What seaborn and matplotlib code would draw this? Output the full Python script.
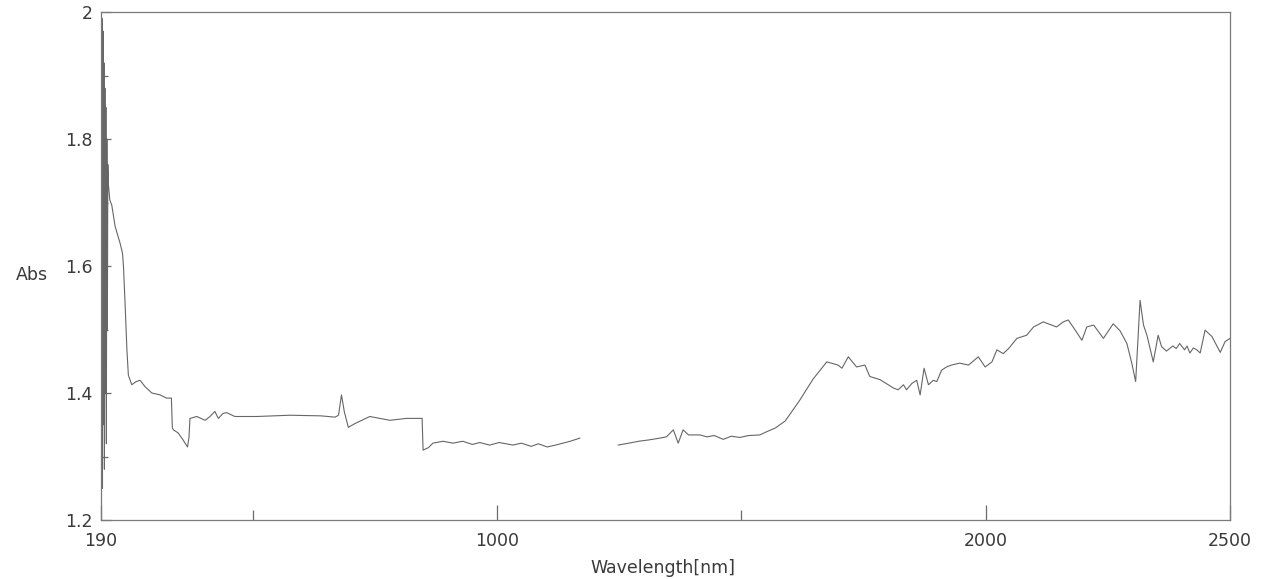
import numpy as np
import pandas as pd
import matplotlib
matplotlib.use("Agg")
import matplotlib.pyplot as plt
import seaborn as sns

# ---- data ----
wavelength = [
    190, 191, 192, 193, 194, 195, 196, 197, 198, 199, 200, 201, 202, 203, 204, 205,
    208, 212, 219, 229, 234, 236, 239, 243, 246, 253, 262, 270, 280, 294, 311, 324,
    334, 336, 338, 348, 358, 367, 370, 372, 386, 403, 413, 423, 430, 440, 447, 464,
    509, 577, 640, 669, 676, 682, 688, 696, 710, 740, 781, 815, 847, 849, 860, 869,
    890, 910, 930, 950, 965, 985, 1005, 1033, 1050, 1070, 1085, 1103, 1120, 1135, 1150, 1170,
    1248, 1270, 1290, 1310, 1334, 1347, 1361, 1371, 1381, 1392, 1415, 1430, 1445, 1463,
    1480, 1497, 1515, 1538, 1552, 1570, 1590,
    1620, 1647, 1675, 1698, 1706, 1719, 1736, 1753, 1763, 1784, 1811, 1821, 1832,
    1838, 1849, 1859, 1866, 1874, 1883, 1893, 1900, 1910, 1920, 1930, 1947, 1965,
    1985, 1999, 2013, 2023, 2036, 2047, 2064, 2084, 2098, 2118, 2145, 2159, 2169,
    2179, 2197, 2207, 2221, 2241, 2261, 2275, 2289, 2299, 2307, 2316, 2323, 2330,
    2343, 2353, 2360, 2370, 2383, 2390, 2397, 2407, 2412, 2418, 2425, 2432, 2439,
    2449, 2463, 2480, 2490, 2500,
]
absorbance = [
    1.95, 1.30, 1.99, 1.25, 1.97, 1.35, 1.92, 1.28, 1.88, 1.40, 1.85, 1.32, 1.80, 1.50, 1.76, 1.73,
    1.704, 1.696, 1.662, 1.636, 1.620, 1.599, 1.546, 1.468, 1.428, 1.413, 1.418, 1.420, 1.410, 1.400, 1.397, 1.392,
    1.392, 1.345, 1.342, 1.337, 1.326, 1.315, 1.330, 1.360, 1.363, 1.357, 1.363, 1.371, 1.360, 1.368, 1.369, 1.363,
    1.363, 1.365, 1.364, 1.362, 1.365, 1.397, 1.370, 1.346, 1.352, 1.363, 1.357, 1.360, 1.360, 1.310, 1.314, 1.321,
    1.324, 1.321, 1.324, 1.319, 1.322, 1.318, 1.322, 1.318, 1.321, 1.316, 1.320, 1.315, 1.318, 1.321, 1.324, 1.329,
    1.318, 1.321, 1.324, 1.326, 1.329, 1.331, 1.342, 1.321, 1.342, 1.334, 1.334, 1.331, 1.333, 1.327,
    1.332, 1.330, 1.333, 1.334, 1.339, 1.345, 1.356,
    1.389, 1.422, 1.449, 1.444, 1.439, 1.457, 1.441, 1.444, 1.426, 1.421, 1.408, 1.405, 1.413,
    1.405, 1.415, 1.420, 1.397, 1.439, 1.413, 1.420, 1.418, 1.436, 1.441, 1.444, 1.447, 1.444,
    1.457, 1.441, 1.449, 1.468, 1.462, 1.470, 1.486, 1.491, 1.504, 1.512, 1.504, 1.512, 1.515,
    1.504, 1.483, 1.504, 1.507, 1.486, 1.509, 1.498, 1.478, 1.447, 1.418, 1.546, 1.507, 1.491,
    1.449, 1.491, 1.473, 1.466, 1.474, 1.470, 1.478, 1.468, 1.474, 1.463, 1.471, 1.468, 1.463,
    1.499, 1.489, 1.464, 1.481, 1.486,
]
# the scanned trace is broken between these wavelengths
gap_start = 1170
gap_end = 1248

x_tick_values = [190, 1000, 2000, 2500]
x_tick_labels = ["190", "1000", "2000", "2500"]
x_minor_values = [500, 1500]
y_tick_values = [1.2, 1.4, 1.6, 1.8, 2.0]
y_tick_labels = ["1.2", "1.4", "1.6", "1.8", "2"]
y_minor_values = [1.3, 1.5, 1.7, 1.9]

df = pd.DataFrame({"wavelength": wavelength, "absorbance": absorbance})
df["segment"] = np.where(df["wavelength"] <= gap_start, 0, 1)

# ---- figure ----
sns.set_style("white")
plt.rcParams["font.family"] = ["DejaVu Sans"]

fig = plt.figure(figsize=(12.74, 5.79), dpi=100)
ax = fig.add_axes([101 / 1274, 1 - 520 / 579, 1129 / 1274, (520 - 12) / 579])

sns.lineplot(data=df, x="wavelength", y="absorbance", units="segment",
             estimator=None, sort=False, color="#666666", linewidth=0.8, ax=ax)

ax.set_xlim(190, 2500)
ax.set_ylim(1.2, 2.0)

ax.set_xticks(x_tick_values)
ax.set_xticklabels(x_tick_labels)
ax.set_xticks(x_minor_values, minor=True)
ax.set_yticks(y_tick_values)
ax.set_yticklabels(y_tick_labels)
ax.set_yticks(y_minor_values, minor=True)

tick_col = "#6a6a6a"
text_col = "#3a3a3a"
fs = 12.5
ax.tick_params(axis="x", which="both", bottom=True, top=False)
ax.tick_params(axis="y", which="both", left=True, right=False)
ax.tick_params(axis="x", which="major", direction="in", length=11, width=0.9,
               color=tick_col, labelsize=fs, labelcolor=text_col, pad=9)
ax.tick_params(axis="x", which="minor", direction="in", length=7, width=0.9, color=tick_col)
ax.tick_params(axis="y", which="major", direction="in", length=7, width=0.9,
               color=tick_col, labelsize=fs, labelcolor=text_col, pad=6)
ax.tick_params(axis="y", which="minor", direction="in", length=5, width=0.9, color=tick_col)

for side in ["left", "right", "top", "bottom"]:
    ax.spines[side].set_visible(True)
    ax.spines[side].set_color("#7a7a7a")
    ax.spines[side].set_linewidth(0.9)

ax.set_xlabel("Wavelength[nm]", fontsize=fs, color=text_col)
ax.xaxis.set_label_coords(0.498, -0.095)
ax.xaxis.label.set_va("center")
ax.set_ylabel("Abs", fontsize=fs, color=text_col, rotation=0, va="center", ha="center")
ax.yaxis.set_label_coords(-0.061, 0.482)

fig.savefig("out.png", dpi=100, facecolor="white")
